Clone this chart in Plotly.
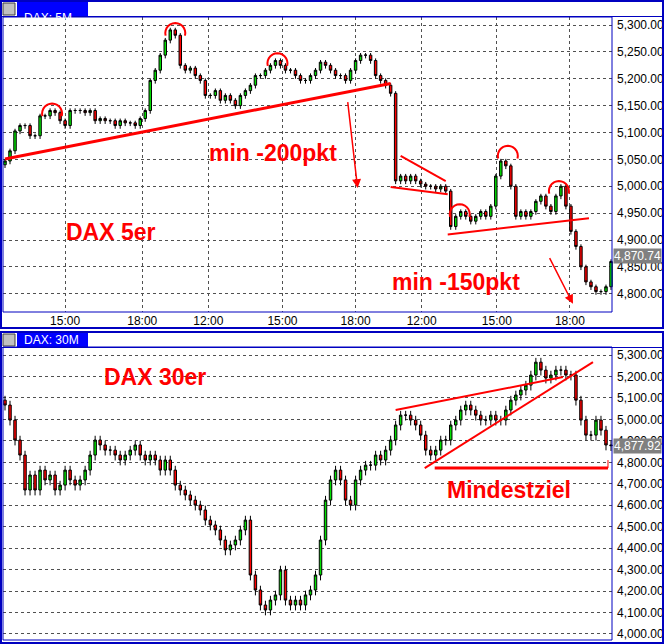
import plotly.graph_objects as go
import math

# ---------------- data ----------------
top_close = [5047,5066,5103,5113,5113,5094,5094,5131,5131,5141,5137,5122,5113,5141,5141,5141,5137,5141,5122,5126,
             5122,5122,5113,5122,5118,5118,5113,5126,5141,5197,5216,5244,5272,5291,5281,5225,5216,5220,5206,5197,
             5169,5169,5178,5160,5169,5160,5150,5169,5178,5188,5206,5206,5216,5225,5234,5225,5216,5216,5206,5197,
             5197,5206,5216,5231,5225,5216,5206,5206,5197,5216,5234,5244,5244,5234,5206,5197,5188,5173,
             5010,5019,5010,5019,5010,5004,5000,5000,4995,5000,4991,4925,4944,4953,4944,4935,4944,4953,4944,4963,
             5019,5047,5038,5000,4944,4953,4944,4953,4972,4982,4963,4953,4982,5000,4963,4916,4888,4850,4822,4813,
             4804,4804,4813,4860,4864,4871]
top_first_open = 5040
top_ticks = ["15:00","18:00","12:00","15:00","18:00","12:00","15:00","18:00"]
top_tick_pos = [12, 27.4, 40.6, 55.4, 70, 83.2, 98.2, 112.8]
top_last = "4,870.74"

bot_close = [5067,4997,4904,4834,4671,4741,4671,4764,4718,4741,4671,4694,4764,4718,4694,4718,4764,4834,4904,4881,
             4857,4857,4834,4811,4834,4857,4881,4834,4811,4834,4811,4764,4811,4764,4694,4671,4648,4624,4601,4578,
             4531,4508,4485,4438,4392,4415,4438,4485,4531,4275,4205,4135,4112,4158,4182,4298,4158,4135,4158,4135,
             4182,4205,4275,4438,4624,4718,4764,4718,4624,4601,4718,4764,4787,4787,4834,4811,4857,4904,4974,5020,
             5020,4997,4974,4927,4857,4834,4857,4904,4904,4974,4997,5044,5067,5044,5020,4997,4997,5020,4997,4997,
             5044,5090,5114,5137,5160,5207,5267,5230,5193,5207,5230,5230,5207,5207,5090,4997,4927,4927,4997,4950,
             4881,4878]
bot_first_open = 5090
bot_last = "4,877.92"

top_yticks = [4800,4850,4900,4950,5000,5050,5100,5150,5200,5250,5300]
bot_yticks = [4000,4100,4200,4300,4400,4500,4600,4700,4800,4900,5000,5100,5200,5300]

def ohlc(closes, first_open, wick_up, wick_dn):
    opens = [first_open] + closes[:-1]
    highs = [max(o, c) + wick_up for o, c in zip(opens, closes)]
    lows = [min(o, c) - wick_dn for o, c in zip(opens, closes)]
    return opens, highs, lows, closes

to, th, tl, tc = ohlc(top_close, top_first_open, 4, 6)
bo, bh, bl, bc = ohlc(bot_close, bot_first_open, 20, 25)

W, H = 665, 644
L, R = 3, 52
RED = "#ff0000"

def px_top(px, py):
    return (px - 5) / 5, 5300 - (py - 25) * 1.873

def px_bot(px, py):
    return (px - 5) / 5, 5300 - (py - 355) * 4.66

def candle(x, o, h, l, c, xa, ya):
    return go.Candlestick(x=x, open=o, high=h, low=l, close=c, xaxis=xa, yaxis=ya,
                          increasing=dict(fillcolor="#00e000", line=dict(color="black", width=1)),
                          decreasing=dict(fillcolor="#ff0000", line=dict(color="black", width=1)),
                          whiskerwidth=0, showlegend=False, hoverinfo="skip")

fig = go.Figure()
fig.add_trace(candle(list(range(len(tc))), to, th, tl, tc, "x", "y"))
fig.add_trace(candle(list(range(len(bc))), bo, bh, bl, bc, "x2", "y2"))

grid = dict(showgrid=True, gridcolor="#505050", griddash="dot", gridwidth=1)
axfont = dict(family="Liberation Sans, Arial", size=12, color="black")
fig.update_layout(
    width=W, height=H, margin=dict(l=L, r=R, t=0, b=0, autoexpand=False),
    paper_bgcolor="white", plot_bgcolor="white",
    font=axfont,
    xaxis=dict(domain=[0, 1], range=[-0.4, 121.4], tickvals=top_tick_pos, ticktext=top_ticks,
               rangeslider=dict(visible=False), anchor="y", ticks="", tickfont=axfont, zeroline=False,
               showline=False, automargin=False, **grid),
    yaxis=dict(domain=[1 - 312/644, 1 - 17/644], range=[4766, 5315], side="right", tickvals=top_yticks,
               tickformat=",.2f", anchor="x", tickfont=axfont, zeroline=False, automargin=False, ticklabelstandoff=3, **grid),
    xaxis2=dict(domain=[0, 1], range=[-0.4, 121.4], rangeslider=dict(visible=False), anchor="y2",
                showticklabels=False, showgrid=False, zeroline=False, automargin=False),
    yaxis2=dict(domain=[4/644, 1 - 345/644], range=[3972, 5347], side="right", tickvals=bot_yticks,
                tickformat=",.2f", anchor="x2", tickfont=axfont, zeroline=False, automargin=False, ticklabelstandoff=3, **grid),
)

def px2paper(px, py):
    return (px - L) / (W - L - R), 1 - py / H

shapes = []
def prect(x0, y0, x1, y1, fill=None, line=None, lw=1, above=True):
    a = px2paper(x0, y0); b = px2paper(x1, y1)
    shapes.append(dict(type="rect", xref="paper", yref="paper", x0=a[0], y0=b[1], x1=b[0], y1=a[1],
                       fillcolor=fill or "rgba(0,0,0,0)", line=dict(color=line or "rgba(0,0,0,0)", width=lw),
                       layer="above" if above else "below"))

for top, bot in [(0, 329), (331, 644)]:
    prect(1, top + 1, 663, bot - 1, line="#0000c0", lw=2)
    prect(17, top + 2, 88, top + 16, fill="#0000ff")
    prect(3, top + 3, 15, top + 15, fill="#c0c0c0", line="#404040")
    prect(1, top + 16, 663, top + 17, fill="#0000c0")
fig.add_annotation(xref="paper", yref="paper", x=px2paper(22, 9)[0], y=px2paper(22, 9)[1], text="DAX: 5M",
                   showarrow=False, xanchor="left", font=dict(color="white", size=12, family="Liberation Sans"))
fig.add_annotation(xref="paper", yref="paper", x=px2paper(22, 340)[0], y=px2paper(22, 340)[1], text="DAX: 30M",
                   showarrow=False, xanchor="left", font=dict(color="white", size=12, family="Liberation Sans"))
prect(3, 17, 612, 312, line="#0000c0", lw=1)
prect(3, 347, 612, 640, line="#0000c0", lw=1)

def seg(fn, xr, yr, p0, p1, w=2):
    a = fn(*p0); b = fn(*p1)
    shapes.append(dict(type="line", xref=xr, yref=yr, x0=a[0], y0=a[1], x1=b[0], y1=b[1],
                       line=dict(color=RED, width=w)))

def arc(fn, xr, yr, cx, cy, r):
    pts = [fn(cx + r * math.cos(t), cy - r * math.sin(t)) for t in [math.pi * k / 12 for k in range(-1, 14)]]
    path = "M " + " L ".join(f"{p[0]},{p[1]}" for p in pts)
    shapes.append(dict(type="path", xref=xr, yref=yr, path=path, line=dict(color=RED, width=2)))

seg(px_top, "x", "y", (5, 158), (390, 83), 3)
seg(px_top, "x", "y", (400, 155), (445, 180))
seg(px_top, "x", "y", (390, 186), (447, 193))
seg(px_top, "x", "y", (447, 233), (588, 217))
for cx, cy in [(52, 113), (175, 33), (277, 63), (459, 213), (507, 155), (558, 190)]:
    arc(px_top, "x", "y", cx, cy, 10)
seg(px_bot, "x2", "y2", (395, 410), (562, 377))
seg(px_bot, "x2", "y2", (424, 468), (592, 362))
seg(px_bot, "x2", "y2", (434, 468), (607, 468), 3)
seg(px_bot, "x2", "y2", (607, 460), (607, 468), 1)
fig.update_layout(shapes=shapes)

def arrow(fn, xr, yr, tail, head):
    h = fn(*head); t = fn(*tail)
    fig.add_annotation(x=h[0], y=h[1], ax=t[0], ay=t[1], xref=xr, yref=yr, axref=xr, ayref=yr,
                       showarrow=True, arrowhead=2, arrowsize=1.2, arrowwidth=1.5, arrowcolor=RED, text="")
arrow(px_top, "x", "y", (347, 100), (357, 187))
arrow(px_top, "x", "y", (548, 255), (572, 302))

def label(fn, xr, yr, px, py, text, size=23):
    p = fn(px, py)
    fig.add_annotation(x=p[0], y=p[1], xref=xr, yref=yr, text=f"<b>{text}</b>", showarrow=False,
                       xanchor="left", font=dict(color=RED, size=size, family="Liberation Sans, Arial"))
label(px_top, "x", "y", 207, 152, "min -200pkt")
label(px_top, "x", "y", 64, 231, "DAX 5er")
label(px_top, "x", "y", 389, 280, "min -150pkt")
label(px_bot, "x2", "y2", 102, 377, "DAX 30er")
label(px_bot, "x2", "y2", 444, 490, "Mindestziel")

fig.add_annotation(xref="paper", yref="y", x=1, y=top_close[-1], text=top_last, showarrow=False, xanchor="left",
                   bgcolor="#808080", font=dict(color="white", size=12, family="Liberation Sans"), borderpad=0)
fig.add_annotation(xref="paper", yref="y2", x=1, y=bot_close[-1], text=bot_last, showarrow=False, xanchor="left",
                   bgcolor="#808080", font=dict(color="white", size=12, family="Liberation Sans"), borderpad=0)

fig.write_html("out.html", config={"displayModeBar": False},
               post_script="document.body.style.margin='0';document.body.style.overflow='hidden';")
